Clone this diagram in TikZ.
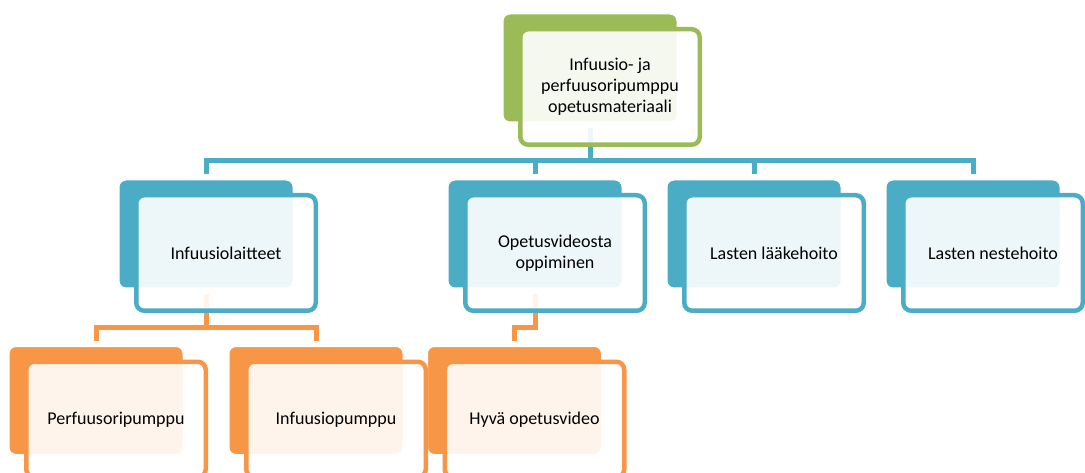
\documentclass[tikz,border=0pt]{standalone}
\usepackage{fontspec}
\setmainfont{Carlito}
\definecolor{smgreen}{HTML}{9BBB59}
\definecolor{smblue}{HTML}{4BACC6}
\definecolor{smorange}{HTML}{F79646}

\begin{document}
\begin{tikzpicture}[x=1pt, y=-1pt,
        back/.style={rectangle, rounded corners=7pt, minimum width=174pt, minimum height=108pt,
            inner sep=0pt, outer sep=0pt, fill=#1, draw=white, line width=1pt},
        front/.style={rectangle, rounded corners=8pt, minimum width=179.5pt, minimum height=115.5pt,
            inner sep=0pt, outer sep=0pt, draw=#1, line width=4.5pt, fill=white, fill opacity=0.9,
            draw opacity=1, text opacity=1, align=center, font=\fontsize{18}{21}\selectfont},
        link/.style={draw=#1, line width=5pt, shorten <=6pt, shorten >=6pt}]
    \clip (0,0) rectangle (1085,473);
    \fill[white] (0,0) rectangle (1085,473);
    % levels of the connectors
    \coordinate (bus1) at (0,161);
    \coordinate (bus2) at (0,327);
    % back shapes
    \node[back=smgreen] (top) at (590,68) {};
    \node[back=smblue] (b1) at (206,234) {};
    \node[back=smblue] (b2) at (535,234) {};
    \node[back=smblue] (b3) at (754,234) {};
    \node[back=smblue] (b4) at (973,234) {};
    \node[back=smorange] (c1) at (96,400.5) {};
    \node[back=smorange] (c2) at (316,400.5) {};
    \node[back=smorange] (c3) at (514.5,400.5) {};
    % connectors
    \draw[link=smblue] (top.south) -- (top.south |- bus1) -| (b1.north);
    \draw[link=smblue] (top.south) -- (top.south |- bus1) -| (b2.north);
    \draw[link=smblue] (top.south) -- (top.south |- bus1) -| (b3.north);
    \draw[link=smblue] (top.south) -- (top.south |- bus1) -| (b4.north);
    \draw[link=smorange] (b1.south) -- (b1.south |- bus2) -| (c1.north);
    \draw[link=smorange] (b1.south) -- (b1.south |- bus2) -| (c2.north);
    \draw[link=smorange] (b2.south) -- (b2.south |- bus2) -| (c3.north);
    % text boxes
    \node[front=smgreen] (topf) at ([shift={(20,19)}]top.center) {Infuusio- ja\\perfuusoripumppu\\opetusmateriaali};
    \node[front=smblue] (b1f) at ([shift={(20,19)}]b1.center) {Infuusiolaitteet};
    \node[front=smblue] (b2f) at ([shift={(20,19)}]b2.center) {Opetusvideosta\\oppiminen};
    \node[front=smblue] (b3f) at ([shift={(20,19)}]b3.center) {Lasten lääkehoito};
    \node[front=smblue] (b4f) at ([shift={(20,19)}]b4.center) {Lasten nestehoito};
    \node[front=smorange] (c1f) at ([shift={(20,19)}]c1.center) {Perfuusoripumppu};
    \node[front=smorange] (c2f) at ([shift={(20,19)}]c2.center) {Infuusiopumppu};
    \node[front=smorange] (c3f) at ([shift={(20,19)}]c3.center) {Hyvä opetusvideo};
\end{tikzpicture}
\end{document}
